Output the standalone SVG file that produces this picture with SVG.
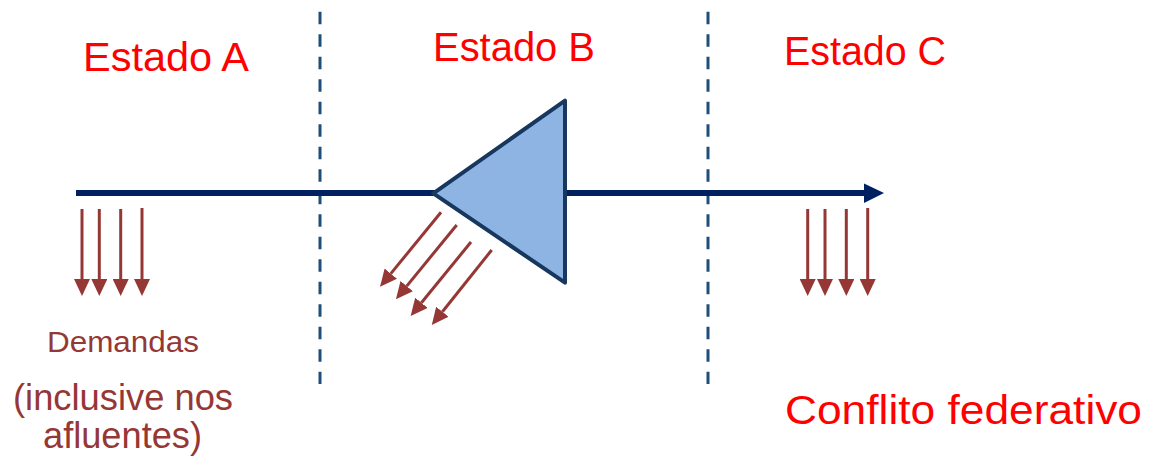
<svg xmlns="http://www.w3.org/2000/svg" width="1149" height="459" viewBox="0 0 1149 459">
<style>
.state{font-family:"Liberation Sans",Arial,sans-serif;font-size:40px;fill:#FF0000}
.dem{font-family:"Liberation Sans",Arial,sans-serif;fill:#953735;text-anchor:middle}
.div{stroke:#1F4E79;stroke-width:3;stroke-dasharray:12.5 10;fill:none}
.d{stroke:#953735;stroke-width:3;fill:none;marker-end:url(#ah)}
</style>
<defs>
<marker id="ah" markerUnits="userSpaceOnUse" markerWidth="18" markerHeight="16" refX="0" refY="8" orient="auto" viewBox="0 0 18 16">
<path d="M0,0 L17,8 L0,16 z" fill="#953735"/>
</marker>
</defs>
<g id="dividers">
<line class="div" x1="320" y1="11.7" x2="320" y2="384"/>
<line class="div" x1="708" y1="11.7" x2="708" y2="384"/>
</g>
<g id="connectors">
<line x1="76" y1="193" x2="865" y2="193" stroke="#002060" stroke-width="6"/>
<polygon points="864,183.5 884,193 864,203" fill="#002060"/>
<line class="d" x1="82" y1="209" x2="82" y2="279"/>
<line class="d" x1="99.3" y1="209" x2="99.3" y2="279"/>
<line class="d" x1="120.7" y1="209" x2="120.7" y2="279"/>
<line class="d" x1="142" y1="208" x2="142" y2="279"/>
<line class="d" x1="807.7" y1="209" x2="807.7" y2="279"/>
<line class="d" x1="825" y1="209" x2="825" y2="279"/>
<line class="d" x1="846.3" y1="209" x2="846.3" y2="279"/>
<line class="d" x1="867.7" y1="208" x2="867.7" y2="279"/>
<line class="d" x1="441" y1="212.3" x2="390.8" y2="273.6"/>
<line class="d" x1="456.7" y1="225" x2="406.7" y2="286.1"/>
<line class="d" x1="471" y1="242" x2="421.4" y2="302.8"/>
<line class="d" x1="491.7" y1="250" x2="442.4" y2="311.8"/>
</g>
<g id="plant">
<polygon points="433.3,193.3 565,100.7 565,282.7" fill="#8EB4E3" stroke="#17375E" stroke-width="4" stroke-linejoin="round"/>
</g>
<g id="estadoA"><text class="state" x="83" y="71" textLength="166" lengthAdjust="spacingAndGlyphs">Estado A</text></g>
<g id="estadoB"><text class="state" x="433" y="61" textLength="162" lengthAdjust="spacingAndGlyphs">Estado B</text></g>
<g id="estadoC"><text class="state" x="784" y="65" textLength="162" lengthAdjust="spacingAndGlyphs">Estado C</text></g>
<g id="conflito"><text class="state" x="785" y="424" textLength="357" lengthAdjust="spacingAndGlyphs">Conflito federativo</text></g>
<g id="demandas">
<text class="dem" x="123" y="352" font-size="29" textLength="152" lengthAdjust="spacingAndGlyphs">Demandas</text>
<text class="dem" x="123" y="410" font-size="36" textLength="220" lengthAdjust="spacingAndGlyphs">(inclusive nos</text>
<text class="dem" x="122.5" y="448" font-size="36" textLength="159" lengthAdjust="spacingAndGlyphs">afluentes)</text>
</g>
</svg>
